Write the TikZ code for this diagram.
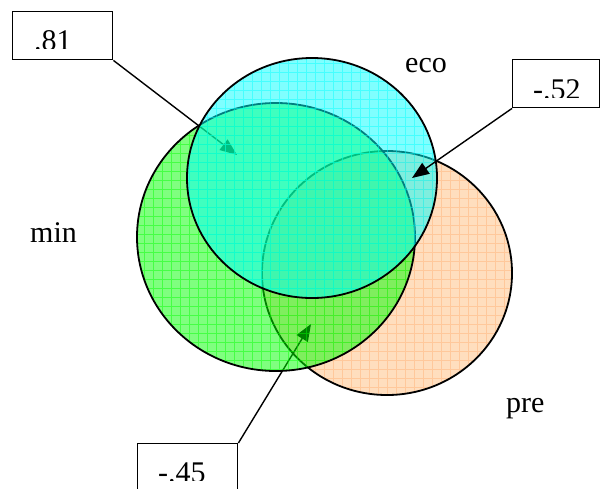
\documentclass[tikz,border=0pt]{standalone}
\usepackage{fontspec}
\setmainfont{Liberation Serif}
\usetikzlibrary{arrows.meta}
\definecolor{peach}{RGB}{255,222,190}
\definecolor{peachline}{RGB}{255,200,155}
\definecolor{grn}{RGB}{0,255,0}
\definecolor{cyn}{RGB}{0,255,255}
\begin{document}
\begin{tikzpicture}[x=1pt,y=-1pt,
  outline/.style={draw=black,line width=1.8pt},
  gridline/.style={line width=0.6pt},
  box/.style={draw=black,line width=1.4pt,rectangle,inner sep=0pt,anchor=north west},
  lbl/.style={font=\fontsize{30}{36}\selectfont,anchor=base west,inner sep=0pt},
  arr/.style={draw=black,line width=1.4pt,-{Triangle[length=17pt,width=13pt]}}
]
\useasboundingbox (0,0) rectangle (601,488);
\fill[white] (0,0) rectangle (601,488);
\coordinate (prec) at (387,273);
\coordinate (minc) at (276,237);
\coordinate (ecoc) at (312,178);
\coordinate (t81) at (237,155);
\coordinate (t45) at (311,324);
\coordinate (t52) at (412,178);

% boxes
\node[box,minimum width=100pt,minimum height=48pt] (b81) at (12,11) {};
\node[box,minimum width=87pt,minimum height=48pt] (b52) at (512,59) {};
\node[box,minimum width=100pt,minimum height=70pt] (b45) at (137,443) {};

% pre circle
\fill[peach] (prec) ellipse [x radius=125pt, y radius=122pt];
\begin{scope}
  \clip (prec) ellipse [x radius=125pt, y radius=122pt];
  \draw[gridline,peachline] (258,147) grid[step=9pt] (518,400);
\end{scope}
\draw[outline] (prec) ellipse [x radius=125pt, y radius=122pt];

% arrows beneath the fills
\draw[arr] (b81.south east) -- (t81);
\draw[arr] (b45.north east) -- (t45);

% min circle
\fill[grn,fill opacity=0.5] (minc) ellipse [x radius=139pt, y radius=134pt];
\begin{scope}
  \clip (minc) ellipse [x radius=139pt, y radius=134pt];
  \draw[gridline,grn,draw opacity=0.45] (130,100) grid[step=9pt] (420,375);
\end{scope}
\draw[outline] (minc) ellipse [x radius=139pt, y radius=134pt];

% eco circle
\fill[cyn,fill opacity=0.5] (ecoc) ellipse [x radius=125pt, y radius=120pt];
\begin{scope}
  \clip (ecoc) ellipse [x radius=125pt, y radius=120pt];
  \draw[gridline,cyn,draw opacity=0.45] (186,57) grid[step=9pt] (440,300);
\end{scope}
\draw[outline] (ecoc) ellipse [x radius=125pt, y radius=120pt];

% arrow on top
\draw[arr] (b52.south west) -- (t52);

% labels
\node[lbl] (lmin) at (30,242) {min};
\node[lbl] (leco) at (405,72) {eco};
\node[lbl] (lpre) at (506,412) {pre};

% box texts, clipped just above the baseline
\begin{scope}
  \clip (12,11) rectangle (112,48);
  \node[lbl] (v81) at (34,50) {.81};
\end{scope}
\begin{scope}
  \clip (512,59) rectangle (599,97);
  \node[lbl] (v52) at (533,99) {-.52};
\end{scope}
\begin{scope}
  \clip (137,443) rectangle (237,480);
  \node[lbl] (v45) at (158,482) {-.45};
\end{scope}
\end{tikzpicture}
\end{document}
